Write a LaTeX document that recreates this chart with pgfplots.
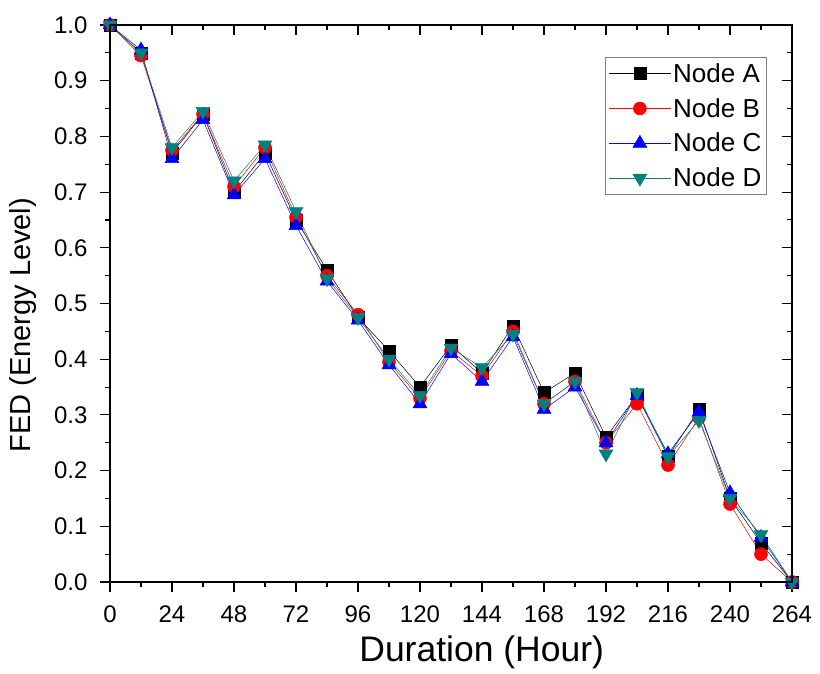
\documentclass[border=0pt]{standalone}
\usepackage{pgfplots}
\pgfplotsset{compat=1.18}
\usepackage{fontspec}
\setmainfont{Liberation Sans}
\definecolor{dteal}{RGB}{0,128,128}
\pgfplotsset{
  common/.style={
    scale only axis, width=682pt, height=557pt,
    xmin=0, xmax=264, ymin=0, ymax=1,
    xtick={0,24,...,264}, minor xtick={12,36,...,252},
    ytick={0,0.1,...,1.0}, minor ytick={0.05,0.15,...,0.95},
    major tick length=10pt, minor tick length=5pt,
    tick style={black, line width=1.1pt},
    axis line style={line width=1.4pt},
  }
}
\begin{document}
\begin{tikzpicture}[x=1pt,y=1pt]
\path[use as bounding box] (-110,-91) rectangle (710,582);
\begin{axis}[
  common,
  tick pos=left, tick align=outside,
  /pgf/number format/assume math mode=true,
  ticklabel style={font=\fontsize{24}{28}\selectfont},
  yticklabel style={/pgf/number format/fixed, /pgf/number format/fixed zerofill, /pgf/number format/precision=1, xshift=-9pt},
  xticklabel style={yshift=-10pt},
  xlabel={Duration (Hour)}, ylabel={FED (Energy Level)},
  every axis x label/.style={at={(axis description cs:0.545,-0.1257)}, anchor=center, font=\fontsize{35.5}{40}\selectfont},
  every axis y label/.style={at={(axis description cs:-0.1276,0.461)}, anchor=center, rotate=90, font=\fontsize{29}{34}\selectfont},
  legend style={at={(0.963,0.9425)}, anchor=north east, draw=gray, line width=0.9pt,
    font=\fontsize{26}{30}\selectfont, row sep=10.5pt, inner xsep=3pt, inner ysep=4pt},
  legend cell align=left,
  legend image code/.code={
    \draw[#1, mark repeat=2, mark phase=2] plot coordinates {(0pt,0pt) (31pt,0pt) (62pt,0pt)};
  },
  every axis plot/.append style={line width=0.5pt},
]
\addplot[black, mark=square*, mark size=6pt, mark options={solid}] coordinates {
(0,1.0)(12,0.95)(24,0.77)(36,0.84)(48,0.70)(60,0.77)(72,0.65)(84,0.56)(96,0.475)(108,0.415)(120,0.35)(132,0.425)(144,0.375)(156,0.46)(168,0.34)(180,0.375)(192,0.26)(204,0.335)(216,0.225)(228,0.31)(240,0.15)(252,0.07)(264,0.0)};
\addlegendentry{Node A}
\addplot[red, mark=*, mark size=6.5pt] coordinates {
(0,1.0)(12,0.945)(24,0.775)(36,0.84)(48,0.71)(60,0.78)(72,0.655)(84,0.55)(96,0.48)(108,0.395)(120,0.33)(132,0.415)(144,0.37)(156,0.45)(168,0.32)(180,0.36)(192,0.25)(204,0.32)(216,0.21)(228,0.295)(240,0.14)(252,0.05)(264,0.0)};
\addlegendentry{Node B}
\addplot[blue, mark=triangle*, mark size=8pt] coordinates {
(0,1.0)(12,0.955)(24,0.76)(36,0.83)(48,0.695)(60,0.76)(72,0.64)(84,0.54)(96,0.47)(108,0.39)(120,0.32)(132,0.41)(144,0.36)(156,0.44)(168,0.31)(180,0.35)(192,0.25)(204,0.335)(216,0.23)(228,0.305)(240,0.16)(252,0.08)(264,0.0)};
\addlegendentry{Node C}
\addplot[dteal, mark=triangle*, mark size=8pt, mark options={rotate=180}] coordinates {
(0,1.0)(12,0.95)(24,0.78)(36,0.845)(48,0.72)(60,0.785)(72,0.665)(84,0.545)(96,0.475)(108,0.40)(120,0.335)(132,0.42)(144,0.385)(156,0.445)(168,0.32)(180,0.36)(192,0.23)(204,0.34)(216,0.225)(228,0.29)(240,0.15)(252,0.085)(264,0.0)};
\addlegendentry{Node D}
\end{axis}
\begin{axis}[
  common,
  tick pos=right, tick align=inside,
  xticklabels={}, yticklabels={},
]
\end{axis}
\end{tikzpicture}
\end{document}
